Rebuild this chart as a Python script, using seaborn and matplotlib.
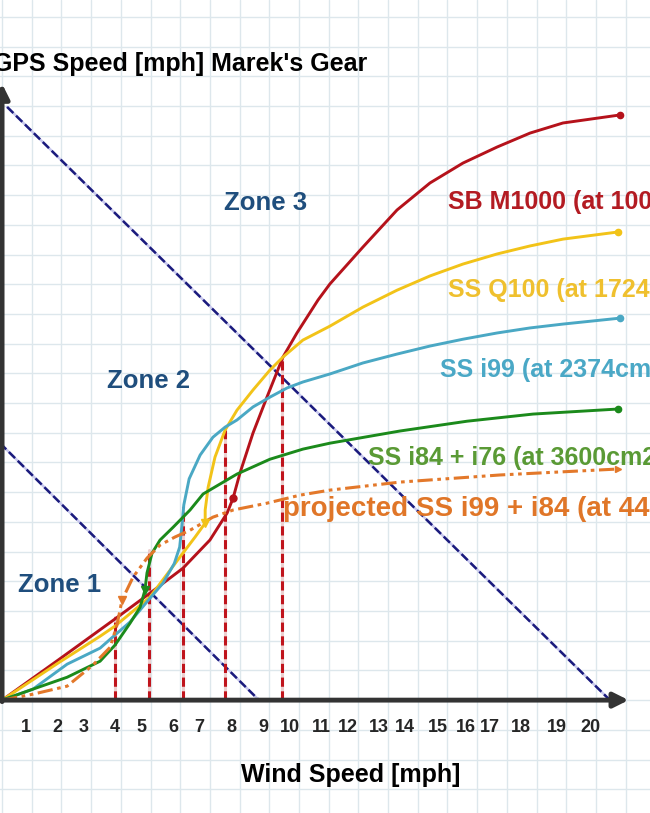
import numpy as np
import seaborn as sns
import matplotlib.pyplot as plt

# wind speed [mph] vs GPS speed [mph]
red_x = [0.00, 1.89, 3.80, 4.98, 6.09, 7.00, 7.58, 7.78, 8.01, 8.45, 8.92, 9.46, 9.93,
         10.64, 11.04, 12.15, 13.30, 14.41, 15.52, 16.67, 17.78, 18.89, 20.81]
red_y = [0.00, 1.35, 2.73, 3.60, 4.44, 5.39, 6.30, 6.80, 7.64, 8.99, 10.20, 11.55, 12.36,
         13.47, 14.01, 15.25, 16.50, 17.41, 18.08, 18.62, 19.09, 19.43, 19.70]

yellow_x = [0.00, 1.89, 3.30, 3.80, 4.98, 6.09, 6.50, 6.84, 6.84, 6.94, 7.17, 7.51, 7.91,
            8.45, 9.02, 9.46, 10.13, 11.04, 12.15, 13.30, 14.41, 15.52, 16.67, 17.78, 18.89, 20.74]
yellow_y = [0.00, 1.25, 2.15, 2.49, 3.47, 4.95, 5.49, 5.96, 6.40, 7.17, 8.18, 9.09, 9.76,
            10.44, 11.11, 11.55, 12.12, 12.59, 13.23, 13.80, 14.28, 14.68, 15.02, 15.29, 15.52, 15.76]

blue_x = [0.00, 1.04, 2.19, 3.30, 3.80, 4.31, 4.98, 5.42, 5.80, 5.98, 6.06, 6.12, 6.30, 6.67,
          7.10, 7.51, 7.91, 8.45, 9.02, 9.60, 10.13, 11.04, 12.15, 13.30, 14.41, 15.52, 16.67,
          17.78, 18.89, 20.81]
blue_y = [0.00, 0.37, 1.21, 1.75, 2.19, 2.63, 3.43, 3.94, 4.60, 5.15, 5.90, 6.57, 7.45, 8.25,
          8.85, 9.19, 9.43, 9.87, 10.20, 10.51, 10.71, 10.98, 11.35, 11.65, 11.92, 12.15, 12.36,
          12.53, 12.66, 12.86]

green_x = [0.00, 1.04, 2.19, 3.30, 3.80, 4.31, 4.65, 4.81, 4.88, 5.05, 5.32, 5.76, 6.33, 6.77,
           7.91, 9.02, 10.13, 11.04, 13.40, 15.66, 17.88, 20.74]
green_y = [0.00, 0.37, 0.77, 1.31, 1.85, 2.59, 3.13, 3.70, 4.28, 4.95, 5.39, 5.82, 6.40, 6.94,
           7.61, 8.11, 8.45, 8.65, 9.06, 9.39, 9.63, 9.80]

orange_x = [0.00, 1.04, 2.19, 3.06, 3.64, 3.87, 4.04, 4.41, 4.88, 5.32, 5.82, 6.33, 7.10, 7.78,
            8.92, 10.03, 11.04, 13.40, 16.77, 20.74]
orange_y = [0.00, 0.20, 0.47, 1.18, 1.78, 2.53, 3.37, 4.14, 4.78, 5.22, 5.49, 5.72, 6.16, 6.40,
            6.63, 6.90, 7.07, 7.34, 7.58, 7.78]

# switching points (where the dashed red lines drop to the axis)
switch_x = [3.80, 4.95, 6.09, 7.51, 9.43]
switch_y = [2.79, 5.05, 6.50, 9.09, 11.55]

# zone boundaries
zone_line1_x = [-0.07, 8.65]
zone_line1_y = [8.65, 0.0]
zone_line2_x = [0.17, 20.47]
zone_line2_y = [19.97, 0.0]

wind_ticks = list(range(1, 21))
tick_x = [0.80, 1.85, 2.73, 3.81, 4.71, 5.76, 6.63, 7.73, 8.79, 9.70,
          10.74, 11.65, 12.69, 13.57, 14.68, 15.62, 16.43, 17.47, 18.70, 19.83]

labels = ["SB M1000 (at 1000cm2)", "SS Q100 (at 1724cm2)", "SS i99 (at 2374cm2)",
          "SS i84 + i76 (at 3600cm2)", "projected SS i99 + i84 (at 4400cm2)"]

sns.set_style("white")
plt.rcParams['font.family'] = ['Liberation Sans', 'DejaVu Sans']

fig = plt.figure(figsize=(6.5, 8.13), dpi=100)
ax = fig.add_axes([0, 0, 1, 1])
ax.set_xlim(-0.07, 21.82)
ax.set_ylim(-3.80, 23.57)

# graph paper
ax.set_xticks(np.arange(0, 22))
ax.set_yticks(np.arange(-3, 24))
ax.tick_params(length=0, labelbottom=False, labelleft=False)
ax.grid(True, color='#dde7ec', lw=1.0)
for s in ax.spines.values():
    s.set_visible(False)

# zone boundary lines (navy dashes on light gaps)
for lx, ly in [(zone_line1_x, zone_line1_y), (zone_line2_x, zone_line2_y)]:
    ax.plot(lx, ly, color='#c9c9ee', lw=1.8, zorder=2)
    ax.plot(lx, ly, color='#1b1b7d', lw=1.8, ls=(0, (3.5, 1.5)), zorder=2)

# dashed red drop lines
for sx, sy in zip(switch_x, switch_y):
    ax.plot([sx, sx], [0, sy], color='#ecd0d0', lw=2.2, zorder=3)
    ax.plot([sx, sx], [0, sy], color='#c0141c', lw=2.2, ls=(0, (3, 1.5)), zorder=3)

# curves
curves = [
    (red_x, red_y, '#b5121b'),
    (yellow_x, yellow_y, '#f2c318'),
    (blue_x, blue_y, '#4aa8c4'),
    (green_x, green_y, '#1b8a1b'),
]
for cx, cy, col in curves:
    sns.lineplot(x=cx, y=cy, sort=False, estimator=None, color=col, lw=2.1, ax=ax, zorder=4,
                 solid_joinstyle='round', solid_capstyle='round')
    ax.plot(cx[-1], cy[-1], 'o', color=col, ms=4.5, zorder=5)

sns.lineplot(x=orange_x, y=orange_y, sort=False, estimator=None, color='#e3782a', lw=2.2,
             ls=(0, (5, 1.5, 1.2, 1.5, 1.2, 1.5)), ax=ax, zorder=4)
ax.plot(orange_x[-1], orange_y[-1], '>', color='#e3782a', ms=5, zorder=5)

# little hysteresis arrows / marks
ax.plot(red_x[7], red_y[7], 'o', color='#b5121b', ms=5, zorder=5)
ax.plot(yellow_x[7], yellow_y[7], 'v', color='#f2c318', ms=6, zorder=5)
ax.plot(green_x[7], green_y[7], 'v', color='#1b8a1b', ms=6, zorder=5)
ax.plot(orange_x[6], orange_y[6], 'v', color='#e3782a', ms=6, zorder=5)

# axes arrows
arrow = dict(arrowstyle='-|>', lw=3.5, color='#333333', mutation_scale=22, shrinkA=0, shrinkB=0)
ax.annotate('', xy=(21.1, 0), xytext=(0, 0), arrowprops=arrow, zorder=6)
ax.annotate('', xy=(0, 20.75), xytext=(0, -0.05), arrowprops=arrow, zorder=6)

# texts
ax.text(-0.30, 21.41, "GPS Speed [mph] Marek's Gear", fontsize=18, fontweight='bold',
        color='black', ha='left', va='center')
ax.text(11.75, -2.53, "Wind Speed [mph]", fontsize=18, fontweight='bold',
        color='black', ha='center', va='center')
for t, tx in zip(wind_ticks, tick_x):
    ax.text(tx, -0.91, str(t), fontsize=13, fontweight='bold', ha='center', va='center')

zone_col = '#1f4e7d'
ax.text(8.86, 16.73, "Zone 3", fontsize=18.5, fontweight='bold', color=zone_col, ha='center', va='center')
ax.text(4.92, 10.74, "Zone 2", fontsize=18.5, fontweight='bold', color=zone_col, ha='center', va='center')
ax.text(1.95, 3.87, "Zone 1", fontsize=18.5, fontweight='bold', color=zone_col, ha='center', va='center')

label_pos = [(15.02, 16.77), (15.02, 13.80), (14.75, 11.11), (12.32, 8.15), (9.46, 6.43)]
label_col = ['#b31b22', '#efc02e', '#4aa8c6', '#5a9a35', '#e07628']
label_size = [18, 18, 18, 18, 20]
for lab, (lx, ly), col, fs in zip(labels, label_pos, label_col, label_size):
    ax.text(lx, ly, lab, fontsize=fs, fontweight='bold', color=col, ha='left', va='center', zorder=7)

fig.savefig('out.png', dpi=100)
